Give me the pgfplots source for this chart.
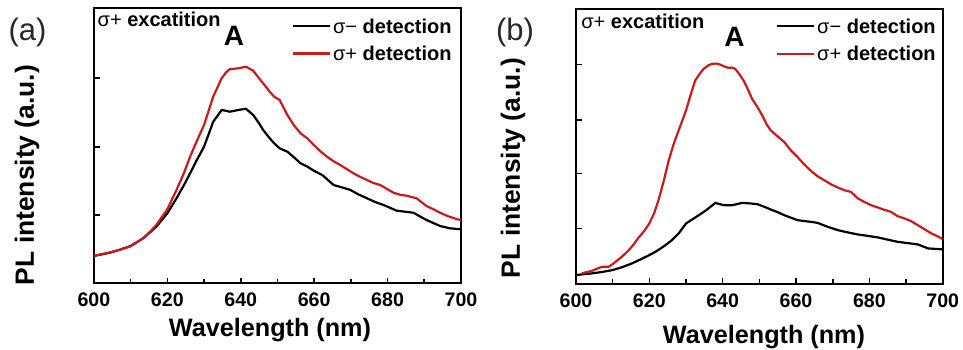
\documentclass[border=0pt]{standalone}
\usepackage{pgfplots}
\pgfplotsset{compat=1.18}
\usepackage{fontspec}
\setmainfont{Liberation Sans}
\definecolor{myred}{RGB}{200,28,28}
\definecolor{lblgray}{RGB}{40,40,40}
\pgfplotsset{
  panel/.style={
    scale only axis, height=137.65pt,
    xmin=600, xmax=700, ymin=0,
    xtick={600,620,...,700}, minor xtick={610,630,...,690},
    tick align=inside, xtick pos=bottom, ytick pos=left,
    yticklabels={,,,,},
    major tick length=2.8pt, minor tick length=2.4pt,
    axis line style={line width=1pt},
    every tick/.style={black, line width=0.8pt},
    xticklabel style={font=\fontsize{9.8}{10}\selectfont\bfseries, yshift=-1.2pt},
    /pgf/number format/assume math mode=true,
    /pgf/number format/1000 sep={},
    legend cell align=left,
    legend image code/.code={\draw[##1, line width=1.1pt] (0pt,0pt) -- (18.5pt,0pt);},
    legend style={at={(1,1)}, anchor=north east, draw=none, fill=none,
      inner sep=0pt, row sep=4.45pt, font=\fontsize{10}{12}\selectfont,
      nodes={inner sep=1pt, text height=7.2pt, text depth=0pt}},
  }
}
\begin{document}
\begin{tikzpicture}
\useasboundingbox (0,0) rectangle (481.5pt,-174.5pt);
% ---------------- panel (a)
\begin{axis}[panel, at={(46.95pt,-141.65pt)}, anchor=south west,
  width=183.55pt, ymax=275.3, ytick={68.3,136.6,205.5},
  legend style={xshift=-3.5pt, yshift=-4.25pt}]
\addplot[black, line width=1.1pt] coordinates {
(600,27.3) (602,28.8) (604.3,30.6) (607,33.5) (610,37.3) (613.4,45) (615,50)
(617,56.6) (620,70) (622.5,85) (624.5,98) (626.2,110) (628,123) (630,136.6)
(632.5,161.6) (634.8,173.3) (636,172.5) (637,171.6) (639.3,173.3) (641.4,174.6)
(643.4,168.3) (645,160) (646.1,153.3) (647.9,145) (649.1,140) (650.6,135)
(652.7,131.6) (654.5,126) (656.3,120) (658,117) (659.9,112.6) (662.2,108.3)
(665.3,98.3) (667.5,96) (669.9,93.3) (672,89) (674.4,85) (676.5,81.5)
(678.9,78.3) (682.5,72.6) (685,71.5) (687,70.6) (690.6,63.3) (694.3,57.3)
(697,55) (699,54.3) (700,54)
};
\addlegendentry{σ− \textbf{detection}}
\addplot[myred, line width=1.1pt] coordinates {
(600,27.5) (602,29) (604,30.5) (607,33.5) (610,37) (613.4,45) (615,50.5)
(617,58.3) (620,74) (622.5,93.3) (624.5,110) (626.2,126.6) (628,142) (630,158.3)
(632.5,186.6) (634.8,205) (636,211) (637,214) (639.3,215) (641.4,216.6)
(643.4,212.6) (645,205) (646.1,200) (647.9,191.6) (649.1,186.6) (650.6,183.3)
(652.7,168.3) (654.5,158) (656.3,150) (658.1,145) (659.9,138.3) (661.7,132)
(663.5,126.6) (665.3,122) (667.1,118.3) (669,114) (670.7,110) (672.5,106.5)
(674.4,103.3) (676,100.5) (678,98.3) (680,94) (681.6,90.6) (683.5,88.5)
(685.2,87.6) (687.9,85) (690.6,77.3) (692.5,74) (694.3,70.6) (696.5,67)
(699,64) (700,63.3)
};
\addlegendentry{σ+ \textbf{detection}}
\end{axis}
% ---------------- panel (b)
\begin{axis}[panel, at={(288pt,-142pt)}, anchor=south west,
  width=183.35pt, ymax=276, ytick={55.7,110.7,164.7,220},
  legend style={xshift=-2.3pt, yshift=-4.0pt}]
\addplot[black, line width=1.1pt] coordinates {
(600,9) (602,9.8) (604.4,10.7) (607,12) (610,14) (612.5,16.8) (615.3,20.7)
(617.5,24.5) (620,29) (622,33) (624.4,39) (626,43.5) (628,50.7) (630,60.7)
(631.8,65) (633.5,69) (635.5,74) (638,81.3) (640.3,79) (642.6,79) (645.3,81.3)
(647.5,80.8) (649.5,80) (651.3,77.5) (653.1,74.7) (655,72) (656.8,69) (658.6,66.5)
(660.4,64) (663,62.8) (665.9,61.3) (668.5,57.5) (671.4,54) (674,51.8) (676.8,49.7)
(679.5,48.3) (682.3,46.7) (685,44.5) (687.7,42.3) (690.5,41) (693.2,39.7)
(696,35.7) (698,35.2) (700,34.7)
};
\addlegendentry{σ− \textbf{detection}}
\addplot[myred, line width=1.1pt] coordinates {
(601.6,10.7) (603,12) (604.4,13.3) (605.8,15.5) (607.1,17.3) (608.9,17.3)
(610.2,20.5) (611.6,24.7) (613,29) (614.4,34) (615.8,40) (617.1,46.7)
(618.6,53) (620,60.7) (621.3,71) (622.5,84) (623.9,103) (625.3,124) (626.6,140)
(628,154) (630,174) (631.2,189) (632.5,204) (633.6,210) (634.8,215.7) (636,219)
(637,220.7) (638.2,221) (639.3,220) (640.5,218) (641.6,216.7) (642.5,217)
(643.4,215.7) (644.6,210) (645.7,204) (646.9,195) (648,185.7) (649.5,177.3)
(650.8,169) (652,160) (653.1,154) (655,148) (656.8,142.3) (658.6,134)
(660.4,127.3) (662.2,120) (664.1,113.3) (665.9,108) (667.7,104) (669.5,100)
(671.4,96.7) (673.2,94) (675,92.3) (676.8,86) (678.6,82.3) (680.5,79)
(682.3,76.7) (684,74.5) (685.9,72.3) (687.7,68) (689.6,65.7) (691.4,63)
(693.2,59) (695,55) (696.9,50.7) (698.5,48) (700,45)
};
\addlegendentry{σ+ \textbf{detection}}
\end{axis}
% ---------------- texts
\node[anchor=base, text=lblgray, inner sep=0pt, font=\fontsize{15.5}{18}\selectfont] at (13.75pt,-20.25pt) {(a)};
\node[anchor=base, text=lblgray, inner sep=0pt, font=\fontsize{15.5}{18}\selectfont] at (257.5pt,-20pt) {(b)};
\node[rotate=90, inner sep=0pt, font=\fontsize{13.2}{15}\selectfont\bfseries] at (13.5pt,-87.5pt) {PL intensity (a.u.)};
\node[rotate=90, inner sep=0pt, font=\fontsize{13.2}{15}\selectfont\bfseries] at (256.5pt,-84pt) {PL intensity (a.u.)};
\node[anchor=base, inner sep=0pt, font=\fontsize{12.6}{15}\selectfont\bfseries] at (135pt,-168.35pt) {Wavelength (nm)};
\node[anchor=base, inner sep=0pt, font=\fontsize{12.6}{15}\selectfont\bfseries] at (382pt,-171.65pt) {Wavelength (nm)};
\node[anchor=base west, inner sep=0pt, font=\fontsize{10}{12}\selectfont] at (48.65pt,-13.35pt) {σ+ \textbf{excatition}};
\node[anchor=base west, inner sep=0pt, font=\fontsize{10}{12}\selectfont] at (290.5pt,-14.15pt) {σ+ \textbf{excatition}};
\node[anchor=base, inner sep=0pt, font=\fontsize{14}{16}\selectfont\bfseries] at (117pt,-22.5pt) {A};
\node[anchor=base, inner sep=0pt, font=\fontsize{14}{16}\selectfont\bfseries] at (367.25pt,-23.35pt) {A};
\end{tikzpicture}
\end{document}
